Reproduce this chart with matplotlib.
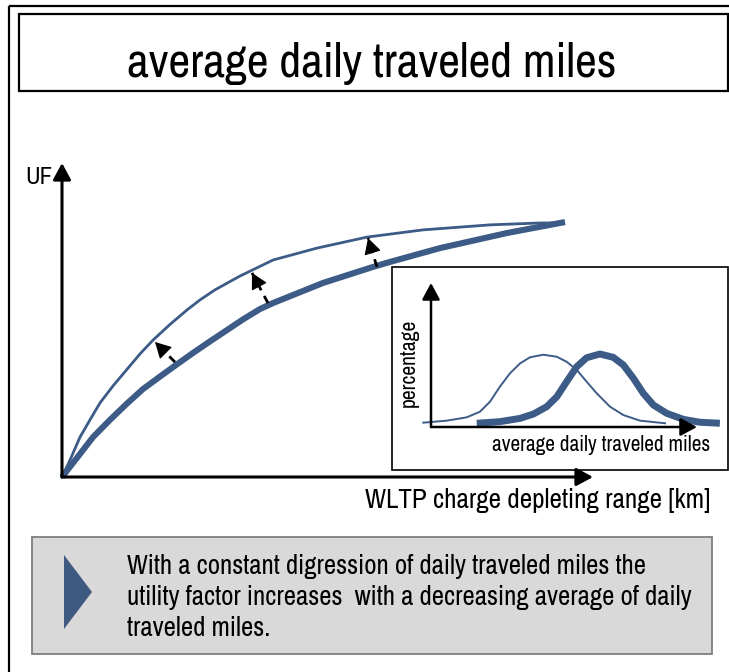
import matplotlib
matplotlib.use("Agg")
import matplotlib.pyplot as plt
from matplotlib import font_manager
from matplotlib.patches import Rectangle, Polygon

# ---------------- data ----------------
# main chart: utility factor vs. charge depleting range (range in % of axis, UF 0..1)
range_low = [0, 1.51, 3.39, 5.27, 7.16, 9.60, 12.24, 14.69, 17.14, 20.34, 23.54, 25.99, 28.81,
             33.52, 39.74, 48.02, 57.44, 67.98, 80.60, 90.02, 94.35]
uf_low = [0, 0.054, 0.127, 0.182, 0.236, 0.290, 0.343, 0.392, 0.436, 0.486, 0.532, 0.564, 0.596,
          0.640, 0.691, 0.729, 0.764, 0.787, 0.803, 0.809, 0.809]
range_high = [0, 2.82, 5.84, 9.04, 12.24, 15.25, 18.46, 21.66, 24.67, 27.87, 31.07, 34.09, 37.29,
              39.74, 49.15, 58.57, 61.77, 71.19, 83.80, 94.73]
uf_high = [0, 0.061, 0.127, 0.182, 0.234, 0.280, 0.320, 0.359, 0.395, 0.432, 0.468, 0.502, 0.535,
           0.554, 0.618, 0.669, 0.685, 0.729, 0.777, 0.812]
# shift arrows (from thick curve to thin curve)
arrow_tail_x = [21.28, 38.79, 59.32]
arrow_tail_y = [0.366, 0.554, 0.669]
arrow_tip_x = [17.51, 35.78, 57.63]
arrow_tip_y = [0.430, 0.650, 0.761]
# inset: distribution of average daily traveled miles
miles_low = [-2.9, 5.9, 13.4, 18.4, 22.2, 25.9, 29.7, 33.5, 37.2, 42.2, 47.3, 51.0, 54.8, 58.5,
             62.3, 67.3, 72.3, 78.6, 88.0]
pct_low = [0.030, 0.044, 0.067, 0.106, 0.176, 0.280, 0.373, 0.442, 0.484, 0.502, 0.488, 0.453,
           0.396, 0.315, 0.234, 0.141, 0.083, 0.044, 0.026]
miles_high = [17.2, 25.9, 33.5, 38.5, 43.5, 47.3, 51.0, 54.8, 58.5, 63.5, 68.5, 72.3, 76.1, 79.8,
              83.6, 88.6, 94.9, 101.1, 108.6]
pct_high = [0.026, 0.037, 0.060, 0.090, 0.141, 0.210, 0.315, 0.419, 0.481, 0.507, 0.484, 0.431,
            0.338, 0.234, 0.153, 0.095, 0.053, 0.033, 0.026]

title = "average daily traveled miles"
y_label = "UF"
x_label = "WLTP charge depleting range [km]"
inset_x_label = "average daily traveled miles"
inset_y_label = "percentage"
body_lines = ["With a constant digression of daily traveled miles the",
              "utility factor increases  with a decreasing average of daily",
              "traveled miles."]

# ---------------- fonts ----------------
names = sorted({f.name for f in font_manager.fontManager.ttflist})
narrow = [n for n in names if "Narrow" in n or "Condensed" in n]
FAM = ([narrow[0]] if narrow else []) + ["Liberation Sans", "DejaVu Sans"]
plt.rcParams['font.family'] = FAM

BLUE = '#3d5b87'
W, H = 729, 672
fig = plt.figure(figsize=(W / 100, H / 100), dpi=100)

# background axes in pixel coordinates for frames / text boxes
bg = fig.add_axes([0, 0, 1, 1])
bg.set_xlim(0, W)
bg.set_ylim(H, 0)
bg.axis('off')

bg.add_patch(Rectangle((9, 6), 760, 700, fill=False, ec='black', lw=1.6))
bg.add_patch(Rectangle((19, 14), 709, 77, fill=False, ec='black', lw=1.6))
bg.add_patch(Rectangle((392, 267), 336, 203, fill=False, ec='black', lw=1.2))
bg.add_patch(Rectangle((32, 537), 680, 117, fc='#d9d9d9', ec='#7f7f7f', lw=1.3))
bg.add_patch(Polygon([(64, 555), (64, 629), (92, 592)], closed=True, fc='#3f5a80', ec='none'))

renderer = fig.canvas.get_renderer()


def fit(t, width):
    bb = t.get_window_extent(renderer)
    t.set_fontsize(t.get_fontsize() * width / bb.width)


t = bg.text(372, 77, title, ha='center', va='baseline', fontsize=30)
fit(t, 490)
t = bg.text(25, 184, y_label, ha='left', va='baseline', fontsize=17)
fit(t, 27)
t = bg.text(710, 508, x_label, ha='right', va='baseline', fontsize=18)
fit(t, 346)
t = bg.text(710, 451, inset_x_label, ha='right', va='baseline', fontsize=12)
fit(t, 218)
t = bg.text(409, 363, inset_y_label, ha='center', va='center', rotation=90, fontsize=12)
bb = t.get_window_extent(renderer)
t.set_fontsize(t.get_fontsize() * 89 / bb.height)
body = [bg.text(127, 574 + 31 * i, line, ha='left', va='baseline', fontsize=17)
        for i, line in enumerate(body_lines)]
fit(body[0], 518)
for tt in body[1:]:
    tt.set_fontsize(body[0].get_fontsize())

# ---------------- main chart ----------------
ox, oy, xt, yt = 62, 477, 593, 163
ax = fig.add_axes([ox / W, (H - oy) / H, (xt - ox) / W, (oy - yt) / H])
ax.set_xlim(0, 100)
ax.set_ylim(0, 1)
ax.axis('off')
axis_kw = dict(arrowstyle='-|>,head_length=0.5,head_width=0.27', color='black', lw=2.2,
               mutation_scale=20, shrinkA=0, shrinkB=0)
ax.annotate('', xy=(1, 0), xytext=(0, 0), xycoords='axes fraction', arrowprops=axis_kw, annotation_clip=False)
ax.annotate('', xy=(0, 1), xytext=(0, 0), xycoords='axes fraction', arrowprops=axis_kw, annotation_clip=False)
ax.plot(range_low, uf_low, color=BLUE, lw=2.0, solid_joinstyle='round', clip_on=False)
ax.plot(range_high, uf_high, color=BLUE, lw=4.4, solid_capstyle='butt', solid_joinstyle='round', clip_on=False)
for x0, y0, x1, y1 in zip(arrow_tail_x, arrow_tail_y, arrow_tip_x, arrow_tip_y):
    # dashed shaft
    ax.plot([x0, x1], [y0, y1], color='black', lw=2.0, linestyle=(0, (2.9, 2.3)),
            solid_capstyle='butt', dash_capstyle='butt')
    # solid filled head
    ax.annotate('', xy=(x1, y1), xytext=(x1 + 0.5 * (x0 - x1), y1 + 0.5 * (y0 - y1)),
                arrowprops=dict(arrowstyle='-|>,head_length=0.5,head_width=0.27', fc='black',
                                ec='black', lw=0.8, mutation_scale=20, shrinkA=0, shrinkB=0))

# ---------------- inset ----------------
ix, iy, ixt, iyt = 431, 427, 697, 283
ins = fig.add_axes([ix / W, (H - iy) / H, (ixt - ix) / W, (iy - iyt) / H])
ins.set_xlim(0, 100)
ins.set_ylim(0, 1)
ins.axis('off')
ins_kw = dict(arrowstyle='-|>,head_length=0.5,head_width=0.27', color='black', lw=1.8,
              mutation_scale=20, shrinkA=0, shrinkB=0)
ins.annotate('', xy=(1, 0), xytext=(0, 0), xycoords='axes fraction', arrowprops=ins_kw, annotation_clip=False)
ins.annotate('', xy=(0, 1), xytext=(0, 0), xycoords='axes fraction', arrowprops=ins_kw, annotation_clip=False)
ins.plot(miles_low, pct_low, color=BLUE, lw=1.4, solid_joinstyle='round', clip_on=False)
ins.plot(miles_high, pct_high, color=BLUE, lw=5.0, solid_capstyle='butt', solid_joinstyle='round', clip_on=False)

fig.savefig('out.png', dpi=100)
